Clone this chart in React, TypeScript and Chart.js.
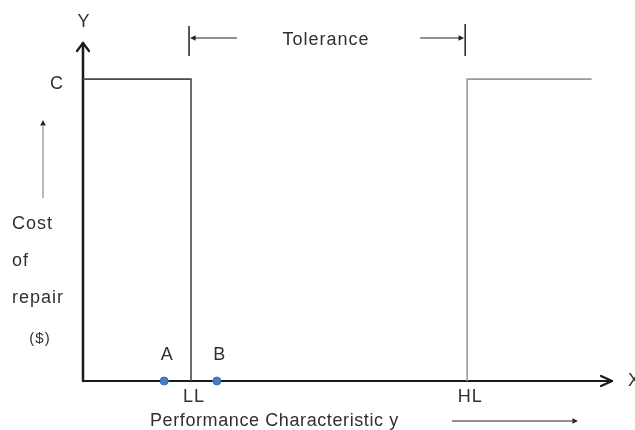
import React, { useEffect, useRef } from "react";
import { Chart, registerables } from "chart.js";

Chart.register(...registerables);

// Step cost function (values in chart units: x 0..100, y 0..100)
const leftStepX = [0, 20.5, 20.5];
const leftStepY = [89.3, 89.3, 0];
const rightStepX = [72.9, 72.9, 96.5];
const rightStepY = [0, 89.3, 89.3];
const pointLabels = ["A", "B"];
const pointX = [15.4, 25.4];
const pointY = [0, 0];
const limitLabels = ["LL", "HL"];
const limitX = [20.5, 72.9];
const costLevel = 89.3;
const costLabel = "C";
const yLabelLines = ["Cost", "of", "repair", "($)"];
const toleranceLabel = "Tolerance";
const xAxisTitle = "Performance Characteristic y";

const FONT = '18px "Liberation Sans", Arial, sans-serif';
const TEXT = "#303030";

function arrowHeadFilled(ctx: CanvasRenderingContext2D, x: number, y: number, dir: "left" | "right" | "up", size = 5) {
  ctx.beginPath();
  if (dir === "left") {
    ctx.moveTo(x, y);
    ctx.lineTo(x + size * 1.4, y - size * 0.7);
    ctx.lineTo(x + size * 1.4, y + size * 0.7);
  } else if (dir === "right") {
    ctx.moveTo(x, y);
    ctx.lineTo(x - size * 1.4, y - size * 0.7);
    ctx.lineTo(x - size * 1.4, y + size * 0.7);
  } else {
    ctx.moveTo(x, y);
    ctx.lineTo(x - size * 0.7, y + size * 1.4);
    ctx.lineTo(x + size * 0.7, y + size * 1.4);
  }
  ctx.closePath();
  ctx.fill();
}

const diagramPlugin = {
  id: "diagram",
  beforeDatasetsDraw(chart: any) {
    const { ctx, chartArea, scales } = chart;
    const x0 = scales.x.getPixelForValue(0);
    const y0 = scales.y.getPixelForValue(0);
    ctx.save();
    ctx.strokeStyle = "#1a1a1a";
    ctx.lineCap = "round";
    ctx.lineJoin = "round";
    // X axis
    ctx.lineWidth = 2;
    ctx.beginPath();
    ctx.moveTo(x0, y0);
    ctx.lineTo(chartArea.right + 2, y0);
    ctx.stroke();
    ctx.lineWidth = 2.2;
    ctx.beginPath();
    ctx.moveTo(chartArea.right - 9, y0 - 5);
    ctx.lineTo(chartArea.right + 2, y0);
    ctx.lineTo(chartArea.right - 9, y0 + 5);
    ctx.stroke();
    // Y axis
    ctx.lineWidth = 2.5;
    ctx.beginPath();
    ctx.moveTo(x0, y0);
    ctx.lineTo(x0, chartArea.top);
    ctx.stroke();
    ctx.lineWidth = 2.2;
    ctx.beginPath();
    ctx.moveTo(x0 - 6, chartArea.top + 8);
    ctx.lineTo(x0, chartArea.top);
    ctx.lineTo(x0 + 6, chartArea.top + 8);
    ctx.stroke();
    ctx.restore();
  },
  afterDraw(chart: any) {
    const { ctx, chartArea, scales } = chart;
    const sx = scales.x;
    const sy = scales.y;
    const x0 = sx.getPixelForValue(0);
    const y0 = sy.getPixelForValue(0);
    ctx.save();
    ctx.font = FONT;
    ctx.fillStyle = TEXT;
    const setSpacing = (v: string) => {
      try {
        (ctx as any).letterSpacing = v;
      } catch (e) {}
    };
    setSpacing("1px");
    ctx.textBaseline = "middle";
    ctx.textAlign = "center";

    // axis letters
    ctx.fillText("Y", x0 + 1, chartArea.top - 21);
    ctx.textAlign = "left";
    ctx.fillText("X", chartArea.right + 18, y0);
    ctx.textAlign = "center";

    // C level label
    ctx.fillText(costLabel, x0 - 26, sy.getPixelForValue(costLevel) + 5);

    // point labels
    pointLabels.forEach((lab, i) => {
      ctx.fillText(lab, sx.getPixelForValue(pointX[i]) + 3, sy.getPixelForValue(pointY[i]) - 26);
    });

    // limit labels
    limitLabels.forEach((lab, i) => {
      ctx.fillText(lab, sx.getPixelForValue(limitX[i]) + 3, y0 + 16);
    });

    // y title lines
    ctx.textAlign = "left";
    const yl = [224, 261, 298];
    yLabelLines.slice(0, 3).forEach((t, i) => ctx.fillText(t, 12, yl[i]));
    ctx.textAlign = "center";
    ctx.font = '15px "Liberation Sans", Arial, sans-serif';
    ctx.fillText(yLabelLines[3], 40, 339);
    ctx.font = FONT;

    // x title
    ctx.textAlign = "left";
    setSpacing("0.6px");
    ctx.fillText(xAxisTitle, 150, 421);
    setSpacing("1px");

    // tolerance
    const llPx = sx.getPixelForValue(limitX[0]) - 2;
    const hlPx = sx.getPixelForValue(limitX[1]) - 2;
    ctx.textAlign = "center";
    ctx.fillText(toleranceLabel, (llPx + hlPx) / 2 - 1, 40);

    ctx.strokeStyle = "#222";
    ctx.fillStyle = "#222";
    ctx.lineWidth = 1.5;
    // bars
    ctx.beginPath();
    ctx.moveTo(llPx, 26);
    ctx.lineTo(llPx, 56);
    ctx.moveTo(hlPx, 24);
    ctx.lineTo(hlPx, 56);
    ctx.stroke();
    ctx.lineWidth = 1;
    ctx.beginPath();
    ctx.moveTo(llPx + 48, 38);
    ctx.lineTo(llPx + 6, 38);
    ctx.moveTo(hlPx - 45, 38);
    ctx.lineTo(hlPx - 6, 38);
    ctx.stroke();
    arrowHeadFilled(ctx, llPx + 1, 38, "left", 4);
    arrowHeadFilled(ctx, hlPx - 1, 38, "right", 4);

    // x title arrow
    ctx.beginPath();
    ctx.moveTo(452, 421);
    ctx.lineTo(572, 421);
    ctx.stroke();
    arrowHeadFilled(ctx, 578, 421, "right", 4);

    // cost up arrow
    ctx.strokeStyle = "#777";
    ctx.fillStyle = "#222";
    ctx.beginPath();
    ctx.moveTo(43, 198);
    ctx.lineTo(43, 126);
    ctx.stroke();
    arrowHeadFilled(ctx, 43, 120, "up", 4);

    ctx.restore();
  },
};

export default function App() {
  const canvasRef = useRef<HTMLCanvasElement | null>(null);

  useEffect(() => {
    if (!canvasRef.current) return;
    const toPts = (xs: number[], ys: number[]) => xs.map((x, i) => ({ x, y: ys[i] }));
    const chart = new Chart(canvasRef.current, {
      type: "scatter",
      data: {
        datasets: [
          {
            data: toPts(leftStepX, leftStepY),
            showLine: true,
            borderColor: "#4a4a4a",
            borderWidth: 1.6,
            pointRadius: 0,
            clip: false as any,
          },
          {
            data: toPts(rightStepX, rightStepY),
            showLine: true,
            borderColor: "#9a9a9a",
            borderWidth: 1.6,
            pointRadius: 0,
            clip: false as any,
          },
          {
            data: toPts(pointX, pointY),
            showLine: false,
            pointRadius: 4,
            pointBackgroundColor: "#4a7cc0",
            pointBorderColor: "#3f6fae",
            pointBorderWidth: 1,
            clip: false as any,
          },
        ],
      },
      options: {
        responsive: false,
        animation: false,
        devicePixelRatio: 1,
        layout: { padding: { left: 83, right: 25, top: 43, bottom: 49 } },
        scales: {
          x: { type: "linear", min: 0, max: 100, display: false },
          y: { type: "linear", min: 0, max: 100, display: false },
        },
        plugins: {
          legend: { display: false },
          tooltip: { enabled: false },
        },
        events: [],
      },
      plugins: [diagramPlugin],
    });
    return () => chart.destroy();
  }, []);

  return (
    <div style={{ position: "fixed", left: 0, top: 0, width: 635, height: 430, background: "#fff" }}>
      <canvas ref={canvasRef} width={635} height={430} />
    </div>
  );
}
